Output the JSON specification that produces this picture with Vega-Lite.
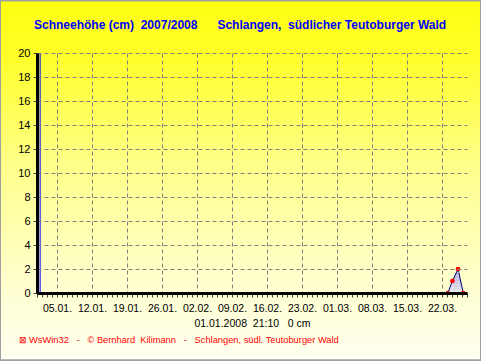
{
  "$schema": "https://vega.github.io/schema/vega-lite/v6.json",
  "width": 430,
  "height": 240,
  "autosize": {"type": "none"},
  "padding": {"left": 37, "top": 53, "right": 14, "bottom": 68},
  "background": "#FFFFC0",
  "config": {
    "view": {"stroke": "black", "strokeWidth": 2, "fill": null},
    "font": "Liberation Sans"
  },
  "title": {
    "text": "Schneehöhe (cm)\u00a0\u00a02007/2008\u00a0\u00a0\u00a0\u00a0\u00a0 Schlangen,\u00a0 südlicher Teutoburger Wald",
    "orient": "none",
    "anchor": "start",
    "frame": "group",
    "dx": -3,
    "dy": -24,
    "baseline": "alphabetic",
    "color": "#0000FF",
    "font": "Liberation Sans",
    "fontSize": 12,
    "fontWeight": "bold"
  },
  "datasets": {
    "snow": [
      {"date": "2008-03-23T04:00", "cm": 0},
      {"date": "2008-03-24T02:00", "cm": 1},
      {"date": "2008-03-25T05:00", "cm": 2},
      {"date": "2008-03-26T06:00", "cm": 0}
    ],
    "cursor": [{"date": "2008-01-01T15:00", "cm": 0, "top": 20}],
    "frame": [{"name": "background"}]
  },
  "layer": [
    {
      "data": {"name": "frame"},
      "mark": {
        "type": "rect",
        "clip": false,
        "stroke": "#A0A0A0",
        "strokeWidth": 2,
        "fill": {
          "x1": 0, "y1": 0, "x2": 0, "y2": 1,
          "gradient": "linear",
          "stops": [
            {"offset": 0, "color": "#FFFF10"},
            {"offset": 0.15, "color": "#FFFF28"},
            {"offset": 0.45, "color": "#FFFF88"},
            {"offset": 0.75, "color": "#FFFFC8"},
            {"offset": 1, "color": "#FFFFF2"}
          ]
        }
      },
      "encoding": {
        "x": {
          "datum": {"year": 2007, "month": 12, "date": 24, "hours": 14, "minutes": 30},
          "type": "temporal",
          "scale": {"domain": ["2008-01-01T00:00", "2008-03-27T00:00"], "nice": false},
          "axis": {
            "tickCount": {"interval": "day", "step": 1},
            "labelExpr": "day(datum.value) == 6 ? timeFormat(datum.value, '%d.%m.') : ''",
            "labelOverlap": false,
            "labelFlush": false,
            "labelFont": "Liberation Sans",
            "labelFontSize": 10.5,
            "labelColor": "black",
            "labelPadding": 6,
            "labelDx": -2,
            "grid": true,
            "gridColor": "#808080",
            "gridDash": [4, 3],
            "gridOpacity": {"condition": {"test": "day(datum.value) == 6", "value": 1}, "value": 0},
            "tickSize": 4,
            "tickColor": "#404040",
            "domainColor": "black",
            "domainWidth": 3,
            "title": "01.01.2008\u00a0\u00a021:10\u00a0\u00a0\u00a00\u00a0cm",
            "titleFont": "Liberation Sans",
            "titleFontSize": 10.5,
            "titleFontWeight": "normal",
            "titleColor": "black",
            "titleY": 33,
            "titleBaseline": "alphabetic",
            "zindex": 1
          }
        },
        "x2": {"datum": {"year": 2008, "month": 3, "date": 29, "hours": 19, "minutes": 0}},
        "y": {
          "datum": 24.38,
          "type": "quantitative",
          "scale": {"domain": [0, 20], "nice": false},
          "axis": {
            "values": [0, 2, 4, 6, 8, 10, 12, 14, 16, 18, 20],
            "tickCount": 12,
            "labelOverlap": false,
            "labelFlush": false,
            "labelFont": "Liberation Sans",
            "labelFontSize": 11,
            "labelColor": "black",
            "labelPadding": 3,
            "tickSize": 4,
            "tickColor": "#404040",
            "grid": true,
            "gridColor": "#808080",
            "gridDash": [4, 3],
            "domainColor": "black",
            "domainWidth": 3,
            "title": "⊠ WsWin32\u00a0\u00a0\u00a0-\u00a0\u00a0\u00a0© Bernhard\u00a0 Kilimann\u00a0\u00a0\u00a0-\u00a0\u00a0\u00a0Schlangen, südl. Teutoburger Wald",
            "titleAngle": 0,
            "titleX": -19,
            "titleY": 289,
            "titleAlign": "left",
            "titleBaseline": "alphabetic",
            "titleColor": "#FF0000",
            "titleFont": "Liberation Sans",
            "titleFontSize": 9.3,
            "titleFontWeight": "normal",
            "zindex": 1
          }
        },
        "y2": {"datum": -5.6}
      }
    },
    {
      "data": {"name": "snow"},
      "mark": {
        "type": "area",
        "line": {"color": "#000080", "strokeWidth": 1},
        "fill": {
          "x1": 0, "y1": 0, "x2": 0, "y2": 1,
          "gradient": "linear",
          "stops": [
            {"offset": 0, "color": "#8080D8"},
            {"offset": 1, "color": "#E0E0F8"}
          ]
        }
      },
      "encoding": {
        "x": {"field": "date", "type": "temporal"},
        "y": {"field": "cm", "type": "quantitative"}
      }
    },
    {
      "data": {"name": "snow"},
      "mark": {"type": "rule", "color": "white", "strokeDash": [1, 2], "strokeWidth": 1},
      "encoding": {
        "x": {"field": "date", "type": "temporal"},
        "y": {"field": "cm", "type": "quantitative"},
        "y2": {"datum": 0}
      }
    },
    {
      "data": {"name": "snow"},
      "mark": {"type": "point", "filled": true, "color": "#FF0000", "size": 22, "opacity": 1},
      "encoding": {
        "x": {"field": "date", "type": "temporal"},
        "y": {"field": "cm", "type": "quantitative"}
      }
    },
    {
      "data": {"name": "cursor"},
      "mark": {"type": "rule", "color": "#0000FF", "strokeWidth": 1},
      "encoding": {
        "x": {"field": "date", "type": "temporal"},
        "y": {"field": "cm", "type": "quantitative"},
        "y2": {"field": "top"}
      }
    }
  ]
}
